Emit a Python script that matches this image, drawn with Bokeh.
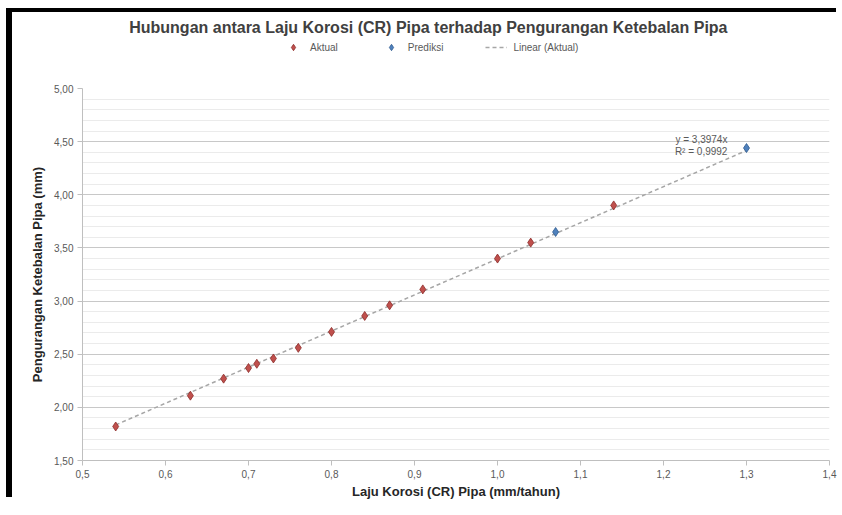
import numpy as np
from bokeh.plotting import figure
from bokeh.layouts import column
from bokeh.models import Legend, LegendItem, Label, FixedTicker, Range1d
from bokeh.embed import file_html
from bokeh.resources import INLINE

# ---- data ----
aktual_cr = [0.54, 0.63, 0.67, 0.70, 0.71, 0.73, 0.76, 0.80, 0.84, 0.87, 0.91, 1.00, 1.04, 1.14]
aktual_loss = [1.82, 2.11, 2.27, 2.37, 2.41, 2.46, 2.56, 2.71, 2.86, 2.96, 3.11, 3.40, 3.55, 3.90]
prediksi_cr = [1.07, 1.30]
prediksi_loss = [3.65, 4.44]

x_ticks = [0.5, 0.6, 0.7, 0.8, 0.9, 1.0, 1.1, 1.2, 1.3, 1.4]
x_tick_labels = ["0,5", "0,6", "0,7", "0,8", "0,9", "1,0", "1,1", "1,2", "1,3", "1,4"]
y_ticks = [1.5, 2.0, 2.5, 3.0, 3.5, 4.0, 4.5, 5.0]
y_tick_labels = ["1,50", "2,00", "2,50", "3,00", "3,50", "4,00", "4,50", "5,00"]

title_text = "Hubungan antara Laju Korosi (CR) Pipa terhadap Pengurangan Ketebalan Pipa"
x_title = "Laju Korosi (CR) Pipa (mm/tahun)"
y_title = "Pengurangan Ketebalan Pipa (mm)"
legend_labels = ["Aktual", "Prediksi", "Linear (Aktual)"]

# ---- linear trend (through origin) of the Aktual series ----
xa = np.array(aktual_cr)
ya = np.array(aktual_loss)
k = float((xa * ya).sum() / (xa * xa).sum())
pred = k * xa
r2 = 1 - ((ya - pred) ** 2).sum() / ((ya - ya.mean()) ** 2).sum()
trend_x = [min(aktual_cr), max(prediksi_cr)]
trend_y = [k * v for v in trend_x]
eq1 = "y = " + f"{k:.4f}".replace(".", ",") + "x"
eq2 = "R² = " + f"{r2:.4f}".replace(".", ",")

FONT = "Liberation Sans"
GRAY_TXT = "#595959"
RED, RED_EDGE = "#C0504D", "#8B2B28"
BLUE, BLUE_EDGE = "#4F81BD", "#2E5A8E"
TREND = "#A6A6A6"
W = 830
HEAD_H = 46
Y_OFF = 10  # header value range starts here, so the series drawn for the legend stay out of view

# ---------- header: title + legend ----------
head = figure(width=W, height=HEAD_H, output_backend="svg", toolbar_location=None,
              x_range=Range1d(0, 1), y_range=Range1d(Y_OFF, Y_OFF + HEAD_H),
              min_border_left=0, min_border_right=0, min_border_top=0, min_border_bottom=0)
head.axis.visible = False
head.grid.grid_line_color = None
head.outline_line_color = None
head.border_fill_color = "white"

head.add_layout(Label(x=0.463, y=Y_OFF + HEAD_H - 15, text=title_text, text_align="center",
                      text_baseline="middle", text_font=FONT, text_font_size="16px",
                      text_font_style="bold", text_color="#404040"))

h_akt = head.scatter(aktual_cr, aktual_loss, marker="diamond", size=9,
                     fill_color=RED, line_color=RED_EDGE, line_width=0.8)
h_pred = head.scatter(prediksi_cr, prediksi_loss, marker="diamond", size=9,
                      fill_color=BLUE, line_color=BLUE_EDGE, line_width=0.8)
h_trend = head.line(trend_x, trend_y, line_color=TREND, line_width=1.5, line_dash="4 3")
legend = Legend(items=[LegendItem(label=legend_labels[0], renderers=[h_akt]),
                       LegendItem(label=legend_labels[1], renderers=[h_pred]),
                       LegendItem(label=legend_labels[2], renderers=[h_trend])],
                orientation="horizontal", location=(200, 3),
                label_text_font=FONT, label_text_font_size="10px", label_text_color=GRAY_TXT,
                padding=0, margin=0, spacing=42, glyph_width=22, glyph_height=16,
                label_height=16, label_standoff=6,
                border_line_color=None, background_fill_alpha=0)
head.add_layout(legend)

# ---------- main chart ----------
p = figure(width=W, height=443, output_backend="svg", toolbar_location=None,
           x_range=Range1d(x_ticks[0], x_ticks[-1]),
           y_range=Range1d(y_ticks[0], y_ticks[-1]),
           min_border_left=70, min_border_right=13, min_border_top=30, min_border_bottom=38)
p.outline_line_color = None
p.background_fill_color = "white"
p.border_fill_color = "white"

p.xgrid.grid_line_color = None
p.ygrid.grid_line_color = "#C8C8C8"
p.ygrid.minor_grid_line_color = "#EBEBEB"

for ax in (p.xaxis[0], p.yaxis[0]):
    ax.axis_line_color = "#BFBFBF"
    ax.major_tick_line_color = "#BFBFBF"
    ax.major_tick_out = 5
    ax.major_tick_in = 0
    ax.minor_tick_line_color = None
    ax.major_label_text_font = FONT
    ax.major_label_text_font_size = "10px"
    ax.major_label_text_color = GRAY_TXT
    ax.major_label_standoff = 4
    ax.axis_label_text_font = FONT
    ax.axis_label_text_font_size = "13px"
    ax.axis_label_text_font_style = "bold"
    ax.axis_label_text_color = "#262626"

p.xaxis[0].ticker = FixedTicker(ticks=x_ticks)
p.xaxis[0].major_label_overrides = dict(zip(x_ticks, x_tick_labels))
p.yaxis[0].ticker = FixedTicker(ticks=y_ticks, minor_ticks=list(np.round(np.arange(1.5, 5.01, 0.1), 2)))
p.yaxis[0].major_label_overrides = dict(zip(y_ticks, y_tick_labels))
p.xaxis[0].axis_label = x_title
p.yaxis[0].axis_label = y_title
p.xaxis[0].axis_label_standoff = 3
p.yaxis[0].axis_label_standoff = 6

p.line(trend_x, trend_y, line_color=TREND, line_width=1.5, line_dash="4 3")
p.scatter(aktual_cr, aktual_loss, marker="diamond", size=9,
          fill_color=RED, line_color=RED_EDGE, line_width=0.8)
p.scatter(prediksi_cr, prediksi_loss, marker="diamond", size=9,
          fill_color=BLUE, line_color=BLUE_EDGE, line_width=0.8)

p.add_layout(Label(x=1.277, y=4.52, text=eq1, text_align="right", text_baseline="middle",
                   text_font=FONT, text_font_size="10px", text_color=GRAY_TXT))
p.add_layout(Label(x=1.277, y=4.41, text=eq2, text_align="right", text_baseline="middle",
                   text_font=FONT, text_font_size="10px", text_color=GRAY_TXT))

layout = column(head, p, spacing=0,
                styles={"margin-top": "12px", "margin-left": "12px",
                        "box-shadow": "-6px -4px 0px 0px black"})
open("out.html", "w").write(file_html(layout, INLINE))
